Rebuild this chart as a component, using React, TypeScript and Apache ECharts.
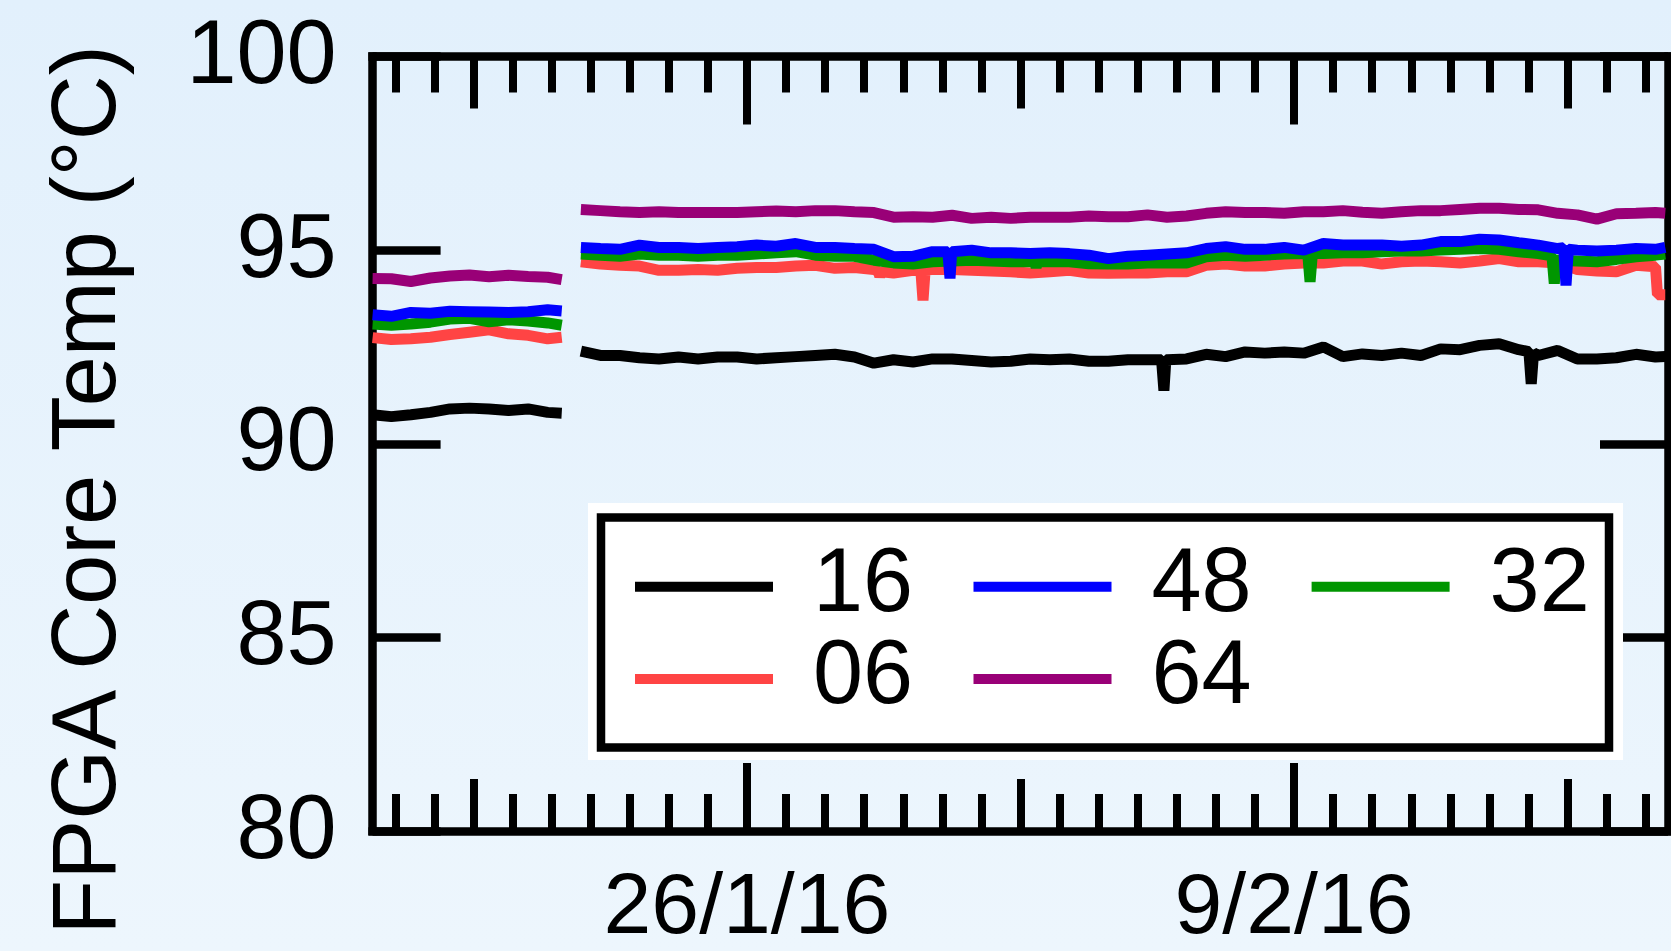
import React, { useEffect, useRef } from "react";
import * as echarts from "echarts";

// x values are days relative to 26 Jan 2016 00:00
const seg1Days = [-9.58, -9.1, -8.6, -8.1, -7.6, -7.1, -6.6, -6.1, -5.6, -5.1, -4.74];
const seg2Days = [
  -4.25, -3.75, -3.25, -2.75, -2.25, -1.75, -1.25, -0.75, -0.25, 0.25,
  0.75, 1.25, 1.75, 2.25, 2.75, 3.25, 3.75, 4.25, 4.75, 5.25,
  5.75, 6.25, 6.75, 7.25, 7.75, 8.25, 8.75, 9.25, 9.75, 10.25,
  10.75, 11.25, 11.75, 12.25, 12.75, 13.25, 13.75, 14.25, 14.75, 15.25,
  15.75, 16.25, 16.75, 17.25, 17.75, 18.25, 18.75, 19.25, 19.75, 20.25,
  20.75, 21.25, 21.75, 22.25, 22.75, 23.25, 23.5,
];
const gapDay = -4.5;

const seriesNames = ["16", "48", "32", "06", "64"];
const seriesColors = ["#000000", "#0000FF", "#009600", "#FF4444", "#990077"];

const t16a = [90.75, 90.7, 90.75, 90.81, 90.9, 90.92, 90.9, 90.86, 90.9, 90.81, 90.79];
const t16b = [
  92.39, 92.28, 92.28, 92.22, 92.19, 92.24, 92.19, 92.24, 92.24, 92.19,
  92.22, 92.25, 92.28, 92.31, 92.24, 92.08, 92.17, 92.11, 92.19, 92.19,
  92.15, 92.11, 92.13, 92.19, 92.17, 92.19, 92.13, 92.13, 92.17, 92.17,
  92.17, 92.19, 92.31, 92.25, 92.37, 92.34, 92.37, 92.34, 92.5, 92.25,
  92.32, 92.28, 92.34, 92.28, 92.45, 92.43, 92.54, 92.58, 92.43, 92.28,
  92.41, 92.19, 92.19, 92.22, 92.31, 92.24, 92.25,
];
const spikes16 = [[10.61, 92.17], [10.67, 91.37], [10.72, 92.17], [20.01, 92.38], [20.07, 91.55], [20.13, 92.35]];

const t48a = [93.33, 93.29, 93.39, 93.37, 93.42, 93.41, 93.4, 93.39, 93.41, 93.46, 93.43];
const t48b = [
  95.07, 95.04, 95.02, 95.13, 95.07, 95.07, 95.04, 95.07, 95.09, 95.13,
  95.1, 95.17, 95.07, 95.07, 95.04, 95.02, 94.83, 94.84, 94.96, 94.96,
  95.0, 94.93, 94.93, 94.91, 94.93, 94.91, 94.87, 94.78, 94.84, 94.87,
  94.9, 94.93, 95.04, 95.09, 95.02, 95.02, 95.07, 95.0, 95.17, 95.13,
  95.13, 95.13, 95.1, 95.13, 95.22, 95.22, 95.28, 95.26, 95.19, 95.13,
  95.04, 95.0, 94.98, 95.0, 95.04, 95.02, 95.07,
];
const spikes48 = [[5.14, 94.96], [5.196, 94.27], [5.24, 94.96], [20.9, 95.06], [20.96, 94.09], [21.02, 95.02]];

const t32a = [93.09, 93.06, 93.09, 93.14, 93.22, 93.24, 93.15, 93.2, 93.17, 93.12, 93.06];
const t32b = [
  94.9, 94.87, 94.84, 94.9, 94.87, 94.87, 94.84, 94.87, 94.87, 94.9,
  94.93, 94.96, 94.87, 94.84, 94.84, 94.74, 94.67, 94.64, 94.7, 94.72,
  94.74, 94.72, 94.7, 94.7, 94.7, 94.7, 94.65, 94.64, 94.64, 94.67,
  94.67, 94.67, 94.83, 94.87, 94.84, 94.87, 94.9, 94.91, 94.91, 94.93,
  94.93, 94.96, 94.98, 94.98, 95.0, 95.02, 95.04, 95.02, 94.96, 94.91,
  94.74, 94.72, 94.7, 94.76, 94.83, 94.87, 94.9,
];
const spikes32 = [
  [7.36, 94.7], [7.4, 94.56], [7.44, 94.7],
  [14.35, 94.91], [14.41, 94.18], [14.47, 94.91],
  [20.6, 94.85], [20.66, 94.14], [20.71, 94.75],
];

const t06a = [92.74, 92.69, 92.71, 92.75, 92.82, 92.88, 92.94, 92.84, 92.8, 92.71, 92.75];
const t06b = [
  94.7, 94.64, 94.61, 94.59, 94.48, 94.48, 94.5, 94.48, 94.53, 94.55,
  94.55, 94.59, 94.61, 94.53, 94.55, 94.5, 94.41, 94.48, 94.5, 94.5,
  94.48, 94.46, 94.44, 94.41, 94.44, 94.48, 94.41, 94.4, 94.41, 94.41,
  94.44, 94.44, 94.61, 94.64, 94.59, 94.59, 94.64, 94.67, 94.67, 94.72,
  94.72, 94.64, 94.7, 94.72, 94.7, 94.67, 94.72, 94.78, 94.7, 94.7,
  94.67, 94.5, 94.46, 94.44, 94.61, 94.57, 93.85,
];
const spikes06 = [[3.36, 94.45], [3.4, 94.32], [3.44, 94.44], [4.45, 94.47], [4.505, 93.7], [4.56, 94.49], [23.3, 93.85]];

const t64a = [94.27, 94.26, 94.19, 94.28, 94.33, 94.36, 94.31, 94.35, 94.32, 94.3, 94.24];
const t64b = [
  96.05, 96.02, 95.99, 95.97, 95.99, 95.97, 95.97, 95.97, 95.97, 95.99,
  96.01, 95.99, 96.02, 96.02, 95.99, 95.97, 95.85, 95.86, 95.85, 95.9,
  95.82, 95.85, 95.82, 95.85, 95.85, 95.85, 95.88, 95.86, 95.86, 95.91,
  95.85, 95.88, 95.95, 95.99, 95.97, 95.97, 95.95, 95.99, 95.99, 96.02,
  95.98, 95.95, 95.99, 96.02, 96.02, 96.05, 96.08, 96.08, 96.05, 96.04,
  95.95, 95.91, 95.8, 95.94, 95.95, 95.97, 95.95,
];
const spikes64: number[][] = [];

// axis ticks (days from 26/1/16)
const dayTicks = [-9, -8, -7, -6, -5, -4, -3, -2, -1, 0, 1, 2, 3, 4, 5, 6, 7, 8, 9, 10, 11, 12, 13, 14, 15, 16, 17, 18, 19, 20, 21, 22, 23];
const weekTicks = [-7, 0, 7, 14, 21];
const labelTicks = [0, 14];
const labelTexts = ["26/1/16", "9/2/16"];
const yTicks = [80, 85, 90, 95, 100];

const xMin = -9.58;
const xMax = 23.57;
const FONT = "'Liberation Sans', Arial, Helvetica, sans-serif";

function buildData(a: number[], b: number[], spikes: number[][]) {
  const pts: any[] = [];
  seg1Days.forEach((d, i) => pts.push([d, a[i]]));
  pts.push([gapDay, null]);
  seg2Days.forEach((d, i) => pts.push([d, b[i]]));
  spikes.forEach((p) => pts.push([p[0], p[1]]));
  pts.sort((p, q) => p[0] - q[0]);
  return pts;
}

const dataByName: Record<string, any[]> = {
  "16": buildData(t16a, t16b, spikes16),
  "48": buildData(t48a, t48b, spikes48),
  "32": buildData(t32a, t32b, spikes32),
  "06": buildData(t06a, t06b, spikes06),
  "64": buildData(t64a, t64b, spikes64),
};

function xAxisDef(position: string, ticks: number[], len: number, withLabel: boolean, withLine: boolean) {
  return {
    type: "value",
    gridIndex: 0,
    position,
    min: xMin,
    max: xMax,
    axisLine: { show: withLine, onZero: false, lineStyle: { color: "#000", width: 8.5, cap: "square" } },
    axisTick: { show: true, inside: true, length: len, customValues: ticks, lineStyle: { color: "#000", width: 8 } },
    axisLabel: withLabel
      ? {
          show: true,
          customValues: labelTicks,
          formatter: (v: number) => labelTexts[labelTicks.indexOf(Math.round(v))] ?? "",
          margin: 37,
          fontSize: 86,
          lineHeight: 70,
          verticalAlign: "top",
          fontFamily: FONT,
          color: "#000",
        }
      : { show: false },
    splitLine: { show: false },
  };
}

function yAxisDef(position: string, withLabel: boolean) {
  return {
    type: "value",
    gridIndex: 0,
    position,
    min: 80,
    max: 100,
    interval: 5,
    axisLine: { show: true, onZero: false, lineStyle: { color: "#000", width: 8.5, cap: "square" } },
    axisTick: { show: true, inside: true, length: 68, lineStyle: { color: "#000", width: 8.5 } },
    axisLabel: withLabel
      ? {
          show: true,
          margin: 36,
          fontSize: 90,
          lineHeight: 9,
          verticalAlign: "bottom",
          fontFamily: FONT,
          color: "#000",
          showMinLabel: true,
          showMaxLabel: true,
          hideOverlap: false,
          formatter: (v: number) => (yTicks.includes(v) ? String(v) : ""),
        }
      : { show: false },
    splitLine: { show: false },
  };
}

// legend layout
const legendOrder = ["16", "48", "32", "06", "64"];
const legendColX = [635, 973.5, 1311.6];
const legendRowLineY = [586.7, 679];
const legendRowTextY = [580, 671.5];

function buildGraphics() {
  const els: any[] = [
    { type: "rect", z: 100, shape: { x: 588, y: 503, width: 1035, height: 257 }, style: { fill: "#ffffff" } },
    {
      type: "rect",
      z: 101,
      shape: { x: 601, y: 517.5, width: 1008, height: 230 },
      style: { fill: "#ffffff", stroke: "#000000", lineWidth: 8.5 },
    },
  ];
  legendOrder.forEach((name, i) => {
    const col = i % 3;
    const row = Math.floor(i / 3);
    const color = seriesColors[seriesNames.indexOf(name)];
    const lx = legendColX[col];
    els.push({
      type: "line",
      z: 102,
      shape: { x1: lx, y1: legendRowLineY[row], x2: lx + 138, y2: legendRowLineY[row] },
      style: { stroke: color, lineWidth: 10 },
    });
    els.push({
      type: "text",
      z: 102,
      x: lx + 178,
      y: legendRowTextY[row],
      style: {
        text: name,
        fontSize: 90,
        fontFamily: FONT,
        fill: "#000",
        textAlign: "left",
        align: "left",
        textVerticalAlign: "middle",
        verticalAlign: "middle",
      },
    });
  });
  els.push({
    type: "text",
    z: 102,
    x: 84,
    y: 490,
    rotation: Math.PI / 2,
    style: {
      text: "FPGA Core Temp (°C)",
      fontSize: 90,
      fontFamily: FONT,
      fill: "#000",
      textAlign: "center",
      align: "center",
      textVerticalAlign: "middle",
      verticalAlign: "middle",
    },
  });
  return els;
}

// draw order: red below green below blue
const drawOrder = ["64", "06", "32", "48", "16"];

export default function App() {
  const ref = useRef<HTMLDivElement>(null);
  useEffect(() => {
    if (!ref.current) return;
    const chart = echarts.init(ref.current, null, { renderer: "svg" });
    const option: any = {
      animation: false,
      backgroundColor: "transparent",
      textStyle: { fontFamily: FONT },
      grid: {
        left: 372.6,
        right: 3,
        top: 56.5,
        bottom: 120,
        containLabel: false,
        outerBoundsMode: "none",
      },
      xAxis: [
        xAxisDef("bottom", dayTicks, 37, false, true),
        xAxisDef("bottom", weekTicks, 52, false, false),
        xAxisDef("bottom", labelTicks, 68, true, false),
        xAxisDef("top", dayTicks, 36, false, true),
        xAxisDef("top", weekTicks, 52, false, false),
        xAxisDef("top", labelTicks, 68, false, false),
      ],
      yAxis: [yAxisDef("left", true), yAxisDef("right", false)],
      series: drawOrder.map((name) => {
        const color = seriesColors[seriesNames.indexOf(name)];
        return {
          type: "line",
          name,
          xAxisIndex: 0,
          yAxisIndex: 0,
          data: dataByName[name],
          showSymbol: false,
          symbol: "none",
          connectNulls: false,
          z: 3,
          lineStyle: { color, width: 11, join: "bevel" },
          itemStyle: { color },
          emphasis: { disabled: true },
        };
      }),
      graphic: { elements: buildGraphics() },
    };
    chart.setOption(option);
    return () => chart.dispose();
  }, []);
  return (
    <div
      ref={ref}
      style={{
        position: "fixed",
        left: 0,
        top: 0,
        width: 1671,
        height: 951,
        background: "linear-gradient(180deg, #E2F0FC 0%, #EDF6FD 100%)",
      }}
    />
  );
}
